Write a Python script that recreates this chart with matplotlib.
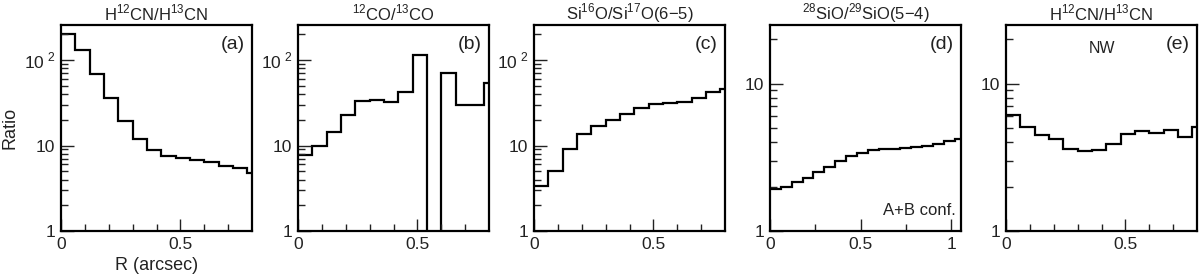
import matplotlib
matplotlib.use('Agg')
import matplotlib.pyplot as plt
from matplotlib.ticker import FixedLocator, FixedFormatter, NullFormatter

plt.rcParams['font.family'] = ['Liberation Sans', 'DejaVu Sans']
plt.rcParams['mathtext.fontset'] = 'custom'
plt.rcParams['mathtext.rm'] = 'Liberation Sans'

# bin edges in arcsec (0.06" bins)
r_edges = [0.0, 0.06, 0.12, 0.18, 0.24, 0.30, 0.36, 0.42, 0.48, 0.54,
           0.60, 0.66, 0.72, 0.78, 0.84, 0.90, 0.96, 1.02, 1.08]

# ratio profiles
hcn_a = [200, 131, 68.5, 35.5, 19.2, 11.9, 8.85, 7.55, 7.1, 6.8, 6.48, 5.82, 5.42, 4.82]
co_b = [7.8, 9.8, 14.4, 22.8, 33, 34, 32.4, 42.5, 114, 0, 71, 29.4, 29.4, 54]
sio17_c = [3.32, 5.0, 9.0, 13.8, 17.1, 20.1, 23.2, 27.3, 30.7, 31.8, 32.7, 35.8, 42.1, 46]
sio29_d = [1.92, 1.98, 2.16, 2.30, 2.52, 2.73, 2.99, 3.24, 3.39, 3.54, 3.59, 3.62,
           3.65, 3.70, 3.77, 3.92, 4.07, 4.24]
hcn_e = [6.17, 5.04, 4.47, 4.18, 3.59, 3.48, 3.54, 3.88, 4.54, 4.76, 4.61, 4.81, 4.33, 5.06]

titles = [r'H$^{12}$CN/H$^{13}$CN', r'$^{12}$CO/$^{13}$CO', r'Si$^{16}$O/Si$^{17}$O(6$-$5)',
          r'$^{28}$SiO/$^{29}$SiO(5$-$4)', r'H$^{12}$CN/H$^{13}$CN']
letters = ['(a)', '(b)', '(c)', '(d)', '(e)']
profiles = [hcn_a, co_b, sio17_c, sio29_d, hcn_e]

lefts = [61, 298, 534, 770, 1006]
W, H = 1200, 278
txt = '#222222'

fig = plt.figure(figsize=(12, 2.78), dpi=100)

for i in range(5):
    ax = fig.add_axes([lefts[i] / W, 47 / H, 191 / W, 206 / H])
    vals = profiles[i]
    ax.stairs(vals, r_edges[:len(vals) + 1], baseline=None, color='k', lw=1.6)
    ax.set_yscale('log', nonpositive='clip')

    if i < 3:
        ax.set_ylim(1, 10 ** 2.41)
        ax.yaxis.set_major_locator(FixedLocator([1, 10, 100]))
        ax.yaxis.set_major_formatter(FixedFormatter(['1', '10', r'10$^{\ 2}$']))
        minors = [m * d for d in (1, 10, 100) for m in range(2, 10) if m * d < 10 ** 2.41]
    else:
        ax.set_ylim(1, 25)
        ax.yaxis.set_major_locator(FixedLocator([1, 10]))
        ax.yaxis.set_major_formatter(FixedFormatter(['1', '10']))
        minors = [2, 3, 4, 5, 6, 7, 8, 9, 20]
    ax.yaxis.set_minor_locator(FixedLocator(minors))
    ax.yaxis.set_minor_formatter(NullFormatter())

    if i == 3:
        ax.set_xlim(0, 1.055)
        ax.xaxis.set_major_locator(FixedLocator([0, 0.5, 1]))
        ax.xaxis.set_major_formatter(FixedFormatter(['0', '0.5', '1']))
        ax.xaxis.set_minor_locator(FixedLocator([0.25, 0.75]))
    else:
        ax.set_xlim(0, 0.8)
        ax.xaxis.set_major_locator(FixedLocator([0, 0.5]))
        ax.xaxis.set_major_formatter(FixedFormatter(['0', '0.5']))
        ax.xaxis.set_minor_locator(FixedLocator([0.1, 0.2, 0.3, 0.4, 0.6, 0.7]))

    ax.tick_params(which='both', direction='in', top=False, right=False,
                   width=1.0, labelsize=12.5, colors=txt)
    ax.tick_params(which='major', length=9, pad=4)
    ax.tick_params(which='minor', length=5)
    for s in ax.spines.values():
        s.set_linewidth(1.6)

    ax.set_title(titles[i], fontsize=12, pad=3, color=txt)
    ax.text(0.90, 0.905, letters[i], transform=ax.transAxes, fontsize=14,
            ha='center', va='center', color=txt)

    if i == 0:
        ax.set_xlabel('R (arcsec)', fontsize=13, labelpad=4, color=txt)
        ax.set_ylabel('Ratio', fontsize=13, color=txt)
        ax.yaxis.set_label_coords(-0.225, 0.5)
    if i == 3:
        ax.text(0.975, 0.10, 'A+B conf.', transform=ax.transAxes, fontsize=12,
                ha='right', va='center', color=txt)
    if i == 4:
        ax.text(0.50, 0.887, 'NW', transform=ax.transAxes, fontsize=11.5,
                ha='center', va='center', color=txt)

plt.savefig('out.png', dpi=100)
